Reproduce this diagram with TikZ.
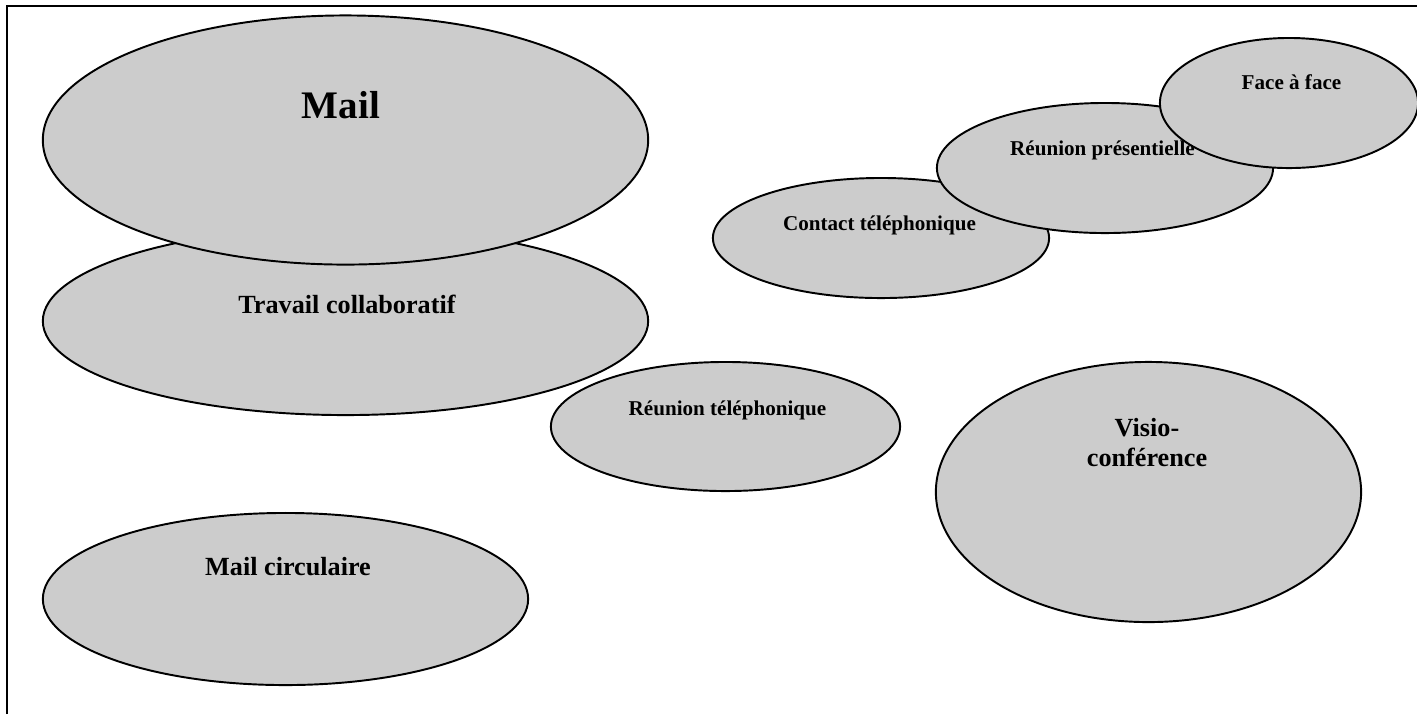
\documentclass[tikz,border=0pt]{standalone}
\usepackage{fontspec}
\setmainfont{Liberation Serif}
\usepackage{tikz}
\usetikzlibrary{shapes.geometric, calc}
\definecolor{bubblefill}{RGB}{204,204,204}
\tikzset{
  bubble/.style={ellipse,draw=black,fill=bubblefill,line width=0.55pt,inner sep=0pt},
  bigtxt/.style={font=\fontsize{11.1}{13}\selectfont\bfseries,inner sep=0pt,anchor=base},
  midtxt/.style={font=\fontsize{7.45}{8.5}\selectfont\bfseries,inner sep=0pt,anchor=base},
  smalltxt/.style={font=\fontsize{6}{7}\selectfont\bfseries,inner sep=0pt,anchor=base},
}

\begin{document}
\begin{tikzpicture}[x=0.01cm,y=-0.01cm]
  \useasboundingbox (0,0) rectangle (1417,714);
  \draw[line width=0.7pt] (7,714) -- (7,6) -- (1417,6);
  % left column
  \node[bubble,minimum width=6.05cm,minimum height=1.88cm] (travail) at (345.5,321) {};
  \node[midtxt] (travailtxt) at ($(travail.center)+(1.5,-8)$) {Travail collaboratif};
  \node[bubble,minimum width=6.05cm,minimum height=2.49cm] (mail) at (345.5,140) {};
  \node[bigtxt] (mailtxt) at ($(mail.center)+(-4.5,-22)$) {Mail};
  \node[bubble,minimum width=4.85cm,minimum height=1.72cm] (circ) at (285.5,599) {};
  \node[midtxt] (circtxt) at ($(circ.center)+(2.5,-24)$) {Mail circulaire};
  % middle
  \node[bubble,minimum width=3.49cm,minimum height=1.29cm] (reutel) at (725.5,426.5) {};
  \node[smalltxt] (reuteltxt) at ($(reutel.center)+(2,-11.5)$) {Réunion téléphonique};
  \node[bubble,minimum width=3.36cm,minimum height=1.20cm] (contact) at (881,238) {};
  \node[smalltxt] (contacttxt) at ($(contact.center)+(-1.5,-8)$) {Contact téléphonique};
  % right column
  \node[bubble,minimum width=3.36cm,minimum height=1.30cm] (presence) at (1105,168) {};
  \node[smalltxt] (presencetxt) at ($(presence.center)+(-2.5,-13)$) {Réunion présentielle};
  \node[bubble,minimum width=2.58cm,minimum height=1.30cm] (face) at (1289,103) {};
  \node[smalltxt] (facetxt) at ($(face.center)+(2.5,-14)$) {Face à face};
  \node[bubble,minimum width=4.25cm,minimum height=2.60cm] (visio) at (1148.5,492) {};
  \node[midtxt,anchor=center,align=center] (visiotxt) at ($(visio.center)+(-1.5,-49.5)$) {Visio-\\conférence};
\end{tikzpicture}
\end{document}
